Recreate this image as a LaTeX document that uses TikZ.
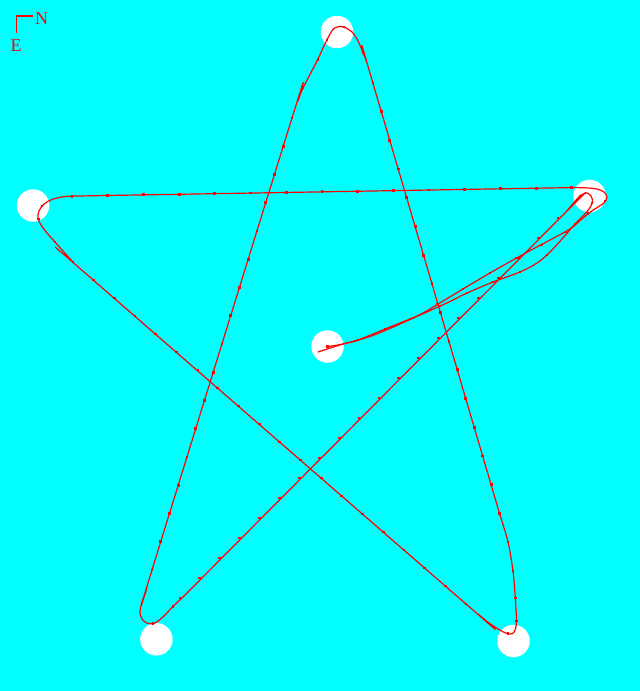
\documentclass[tikz,border=0pt]{standalone}
\usepackage{fontspec}
\setmainfont{Liberation Serif}
\usetikzlibrary{calc}
\definecolor{bgcyan}{RGB}{0,255,255}
\definecolor{trajred}{RGB}{255,0,0}
\begin{document}
\begin{tikzpicture}[x=1pt,y=-1pt,
  waypoint/.style={circle, fill=white, inner sep=0pt, minimum size=32.5pt},
  traj/.style={draw=trajred, line width=1.2pt, line join=round, line cap=round},
  dotmark/.style={fill=trajred},
  compass/.style={draw=trajred, line width=1.3pt},
  compasslabel/.style={text=trajred, font=\fontsize{18}{18}\selectfont, inner sep=0pt}]
\fill[bgcyan] (0,0) rectangle (640,691);
\useasboundingbox (0,0) rectangle (640,691);
% waypoints
\node[waypoint] (wpTop) at (337,32) {};
\node[waypoint] (wpLeft) at (33,205.5) {};
\node[waypoint] (wpRight) at (589.5,196) {};
\node[waypoint] (wpHome) at (327.5,346.5) {};
\node[waypoint] (wpBL) at (156.4,639.3) {};
\node[waypoint] (wpBR) at (513.5,641) {};
% compass
\coordinate (cN) at (33,16);
\coordinate (cO) at (16.5,16);
\coordinate (cE) at (16.5,33);
\draw[compass] (cN) -- (cO) -- (cE);
\node[compasslabel] (lblN) at (41.5,19) {N};
\node[compasslabel] (lblE) at (16,45.5) {E};
% trajectory
\draw[traj] plot[smooth, tension=0.55] coordinates {
  (327.5,346.5) (343,344) (370,336.5) (400,324) (423,313) (453,295) (490,273)
  (522,255) (550,240) (570,229) (579,221.5) (589,213) (598,207) (604.5,202.5)
  (607,197) (604,192) (597,189) (585,187.8) (571.8,187.6)};
\draw[traj] (571.8,187.6) -- (72,196.1);
\draw[traj] plot[smooth, tension=0.55] coordinates {
  (72,196.1) (62,197) (52,199.5) (44,204) (39,211) (38,218) (41,225) (47,233)
  (55,242) (73,262) (84,272) (466,604) (478,614) (489,623) (499,629.5)
  (507,633.5) (512.5,633.5) (515.5,629) (516.5,621) (516,609) (515,594)
  (513,571) (508,542) (500,515)};
\draw[traj] plot[smooth, tension=0.55] coordinates {
  (500,515) (372,80) (367,63) (362,50) (357,39) (352,32) (346,28) (340,26.5)
  (334,28.5) (330,34) (323,48) (317,61) (303,88) (298,101) (292,118)
  (152,570) (147,588) (142,602) (140,612) (142,619) (147,623) (154,623.5)
  (163,617) (172,607.5) (182,598)};
\draw[traj] plot[smooth, tension=0.55] coordinates {
  (182,598) (558,220) (565,213) (571,206) (577,199) (582,194.5) (587,193)
  (591,196) (592.5,202) (589,209) (583,216) (575,224) (562,239) (549,253)
  (537,263) (520,272) (493,282) (467,293) (453,300) (438,307) (420,315)
  (390,327) (358,340) (343,344) (318,352)};
% sample marks on straight legs
\coordinate (hA) at (571.8,187.6); \coordinate (hB) at (72,196.1);
\coordinate (dA) at (73,262);      \coordinate (dB) at (466,604);
\coordinate (uA) at (508,542);     \coordinate (uB) at (373,83);
\coordinate (tA) at (292,118);     \coordinate (tB) at (152,570);
\coordinate (bA) at (180,598);     \coordinate (bB) at (558,218);
\foreach \i [evaluate=\i as \t using \i/14] in {0,...,14}
  \fill[dotmark] ($(hA)!\t!(hB)$) +(-1.4,-1.4) rectangle +(1.4,1.4);
\foreach \i [evaluate=\i as \t using \i/19] in {0,...,19}
  \fill[dotmark] ($(dA)!\t!(dB)$) +(-1.4,-1.4) rectangle +(1.4,1.4);
\foreach \i [evaluate=\i as \t using \i/16] in {0,...,16}
  \fill[dotmark] ($(uA)!\t!(uB)$) +(-1.4,-1.4) rectangle +(1.4,1.4);
\foreach \i [evaluate=\i as \t using \i/16] in {0,...,16}
  \fill[dotmark] ($(tA)!\t!(tB)$) +(-1.4,-1.4) rectangle +(1.4,1.4);
\foreach \i [evaluate=\i as \t using \i/19] in {0,...,19}
  \fill[dotmark] ($(bA)!\t!(bB)$) +(-1.4,-1.4) rectangle +(1.4,1.4);
% sample marks on curved parts
\foreach \p in {(327.5,346.5),(355,341),(382,331),(410,319),(437,304),(463,289),
  (490,273),(516,258),(542,245),(566,232),(588,213.5),(605,201),
  (42,206),(38.5,219),(55,242),
  (487,622),(508,633.5),(516.5,621),(515.5,598),(513,571),
  (363,53),(344,27),(327,40),(318,60),(303,88),
  (142,603),(153,623.5),(173,606.5),
  (580,196),(592,203),(575,224),(547,255),(520,272),(493,282),(467,293),
  (440,306),(413,318),(385,329),(358,340)}
  \fill[dotmark] \p +(-1.4,-1.4) rectangle +(1.4,1.4);
\end{tikzpicture}
\end{document}
